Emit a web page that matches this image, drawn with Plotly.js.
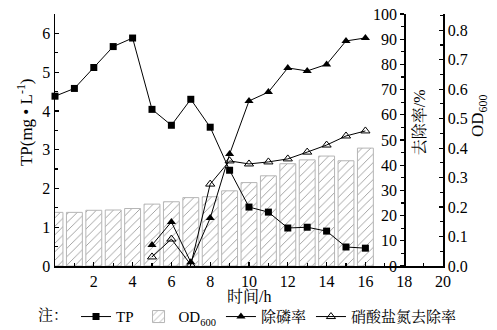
<!DOCTYPE html>
<html><head><meta charset="utf-8">
<script src="https://cdn.plot.ly/plotly-3.0.1.min.js"></script>
<style>html,body{margin:0;padding:0;background:#fff}#c{width:497px;height:330px}</style>
</head><body><div id="c"></div>
<script>
var hours = [0,1,2,3,4,5,6,7,8,9,10,11,12,13,14,15,16];
var tp = [4.38,4.58,5.12,5.66,5.88,4.04,3.63,4.30,3.58,2.47,1.52,1.39,0.98,1.00,0.90,0.49,0.46];
var od600 = [0.182,0.182,0.189,0.19,0.195,0.21,0.218,0.232,0.235,0.255,0.283,0.306,0.347,0.36,0.373,0.357,0.40];
var pHours = [5,6,7,8,9,10,11,12,13,14,15,16];
var pRemoval = [8.3,17.5,1.5,19,44.4,65.5,69,78.6,77.4,80,89.3,90.5];
var nRemoval = [3.6,10.7,0.5,32.5,41.7,40.5,41.3,42.5,45.2,48,51.6,53.6];
var xTicks = [2,4,6,8,10,12,14,16,18,20];

var F = "Liberation Serif, 'Times New Roman', 'Noto Serif CJK SC', 'Noto Sans CJK SC', serif";
var traces = [
  {x: hours, y: tp, type:'scatter', mode:'lines+markers', name:'TP', yaxis:'y3', legendrank:1,
   line:{color:'#000', width:1}, marker:{symbol:'square', size:7, color:'#000'}, cliponaxis:false},
  {x: hours, y: od600, type:'bar', name:'OD<sub>600</sub>', yaxis:'y', width:0.82, legendrank:2,
   marker:{color:'#fff', line:{color:'#b5b5b5', width:1},
     pattern:{shape:'/', fgcolor:'#9a9a9a', bgcolor:'#fff', size:6, solidity:0.15}}},
  {x: pHours, y: pRemoval, type:'scatter', mode:'lines+markers', name:'除磷率', yaxis:'y2', legendrank:3,
   line:{color:'#000', width:1}, marker:{symbol:'triangle-up', size:8, color:'#000'}, cliponaxis:false},
  {x: pHours, y: nRemoval, type:'scatter', mode:'lines+markers', name:'硝酸盐氮去除率', yaxis:'y2', legendrank:4,
   line:{color:'#000', width:1}, marker:{symbol:'triangle-up-open', size:8, color:'#000', line:{width:1}}, cliponaxis:false}
];
var axCommon = {showgrid:false, zeroline:false, showline:true, linecolor:'#000', linewidth:1.5,
  ticks:'inside', ticklen:4, tickcolor:'#000', tickwidth:1.2,
  tickfont:{family:F, size:16, color:'#000'}};
var ttl = {family:F, size:17, color:'#000'};
var layout = {
  width:497, height:330, margin:{l:55, r:54, t:14, b:64, autoexpand:false},
  paper_bgcolor:'#fff', plot_bgcolor:'#fff', font:{family:F, color:'#000'},
  bargap:0.18, showlegend:true,
  legend:{orientation:'h', x:0.5, xanchor:'center', xref:'container', y:0.04, yref:'container', yanchor:'middle',
    font:{family:F, size:15, color:'#000'}, itemwidth:30, tracegroupgap:0,
    title:{text:'注：', side:'left', font:{family:F, size:15}}},
  xaxis: Object.assign({}, axCommon, {range:[0,20], tickvals:xTicks, ticktext:xTicks.map(String),
    minor:{dtick:1, ticks:'inside', ticklen:3, tickcolor:'#000'}}),
  yaxis: Object.assign({}, axCommon, {range:[0,0.855], side:'right', anchor:'x', dtick:0.1, tickformat:'.1f',
    minor:{dtick:0.05, ticks:'inside', ticklen:3, tickcolor:'#000'}}),
  yaxis2: Object.assign({}, axCommon, {range:[0,100], side:'left', overlaying:'y', anchor:'free', position:0.9,
    dtick:10, ticks:'outside',
    minor:{dtick:5, ticks:'outside', ticklen:3, tickcolor:'#000'}}),
  yaxis3: Object.assign({}, axCommon, {range:[0,6.5], side:'left', overlaying:'y', anchor:'x', dtick:1,
    minor:{dtick:0.5, ticks:'inside', ticklen:3, tickcolor:'#000'}}),
  annotations:[
    {text:'时间/h', xref:'paper', yref:'paper', x:0.5, y:-0.123, showarrow:false,
     xanchor:'center', yanchor:'middle', font:{family:F, size:16, color:'#000'}},
    {text:'TP(mg • L<sup>-1</sup>)', xref:'paper', yref:'paper', x:0, xshift:-30, y:0.571, textangle:-90,
     showarrow:false, xanchor:'center', yanchor:'middle', font:ttl},
    {text:'去除率/%', xref:'paper', yref:'paper', x:0.9, xshift:15, y:0.571, textangle:-90,
     showarrow:false, xanchor:'center', yanchor:'middle', font:{family:F, size:16, color:'#000'}},
    {text:'OD<sub>600</sub>', xref:'paper', yref:'paper', x:1, xshift:36, y:0.595, textangle:-90,
     showarrow:false, xanchor:'center', yanchor:'middle', font:ttl}
  ]
};
Plotly.newPlot('c', traces, layout, {displayModeBar:false, staticPlot:true});
</script></body></html>
